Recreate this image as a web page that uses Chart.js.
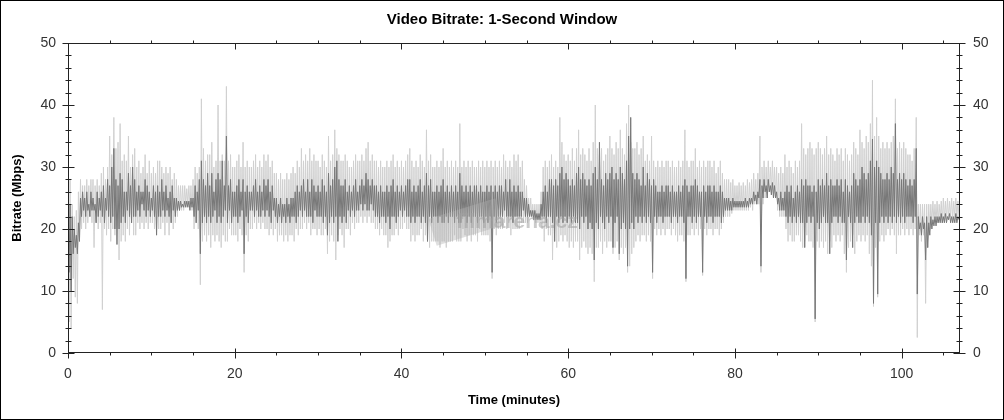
<!DOCTYPE html>
<html>
<head>
<meta charset="utf-8">
<script src="https://cdn.jsdelivr.net/npm/chart.js@4.4.1/dist/chart.umd.min.js"></script>
<style>
  html, body { margin: 0; padding: 0; background: #fff; }
  #wrap { width: 1004px; height: 420px; position: relative; }
</style>
</head>
<body>
<div id="wrap"><canvas id="bitrateChart"></canvas></div>
<script>
// 8 samples per minute
const STEP = 0.125;

// 1-second window bitrate (dark trace), Mbps, one row per minute
const darkRate = [
  27, 13, 24, 10, 22, 16, 20, 17,
  19, 16, 21, 18, 25, 22, 26, 23,
  25, 22, 26, 23, 24, 22, 26, 23,
  25, 23, 24, 21, 26, 22, 25, 23,
  26, 22, 27, 21, 25, 23, 28, 22,
  27, 21, 30, 22, 33, 20, 28, 17.5,
  27, 20, 29, 21, 28, 22, 26, 21,
  26, 23, 29, 22, 27, 21, 30, 22,
  28, 22, 26, 23, 27, 22, 26, 24,
  26, 23, 28, 22, 27, 23, 26, 22,
  25, 23, 27, 22, 26, 19, 27, 22, // 10
  26, 22, 28, 23, 26, 22, 27, 23,
  25, 22, 26, 21, 27, 23, 25, 22,
  25, 23, 24.5, 23, 24.5, 23.5, 24, 23.5,
  24.5, 23.5, 24.5, 23.5, 24.5, 23, 25, 23.5,
  25, 22, 27, 21, 26, 23, 28, 16,
  31, 21, 28, 22, 27, 21, 29, 22,
  27, 21, 29, 22, 26, 23, 28, 21,
  29, 22, 28, 21, 31, 22, 27, 23,
  35, 21, 27, 23, 28, 21, 26, 22,
  26, 22, 27, 21, 28, 22, 26, 23, // 20
  28, 16, 26, 22, 27, 21, 26, 23,
  26, 23, 27, 22, 28, 23, 26, 22,
  27, 22, 26, 23, 28, 22, 27, 23,
  28, 22, 26, 21, 27, 23, 25, 22,
  25, 21, 24, 22, 25, 21, 24, 22,
  24, 21, 25, 22, 24, 21, 25, 22,
  25, 22, 26, 21, 27, 22, 26, 23,
  27, 22, 28, 23, 26, 22, 28, 22,
  26, 22, 28, 21, 27, 23, 26, 22,
  27, 22, 26, 22, 28, 21, 27, 22, // 30
  26, 19, 29, 21, 27, 22, 28, 21,
  30, 22, 31, 18, 28, 22, 27, 21,
  27, 22, 28, 21, 26, 23, 27, 22,
  26, 23, 27, 22, 28, 23, 26, 23,
  27, 24, 28, 23, 27, 24, 29, 23,
  28, 23, 27, 24, 28, 23, 27, 22,
  27, 22, 26, 21, 27, 22, 26, 22,
  26, 21, 27, 22, 26, 20, 27, 22,
  28, 22, 26, 21, 27, 22, 26, 23,
  27, 22, 26, 23, 27, 22, 28, 22, // 40
  28, 21, 26, 22, 27, 21, 26, 22,
  27, 22, 28, 21, 26, 22, 27, 21,
  29, 18, 27, 22, 28, 21, 26, 22,
  26, 22, 27, 21, 26, 22, 27, 21,
  28, 21, 26, 22, 27, 21, 26, 22,
  27, 22, 26, 21, 27, 22, 26, 21,
  29, 21, 27, 22, 26, 22, 27, 21,
  26, 22, 27, 21, 26, 22, 27, 22,
  27, 21, 26, 22, 27, 22, 26, 21,
  26, 22, 27, 21, 26, 22, 27, 13, // 50
  26, 22, 27, 21, 26, 22, 27, 22,
  27, 22, 26, 23, 28, 22, 26, 22,
  28, 22, 26, 21, 27, 22, 26, 22,
  27, 22, 26, 22, 26, 23, 25, 22,
  25, 22, 24, 22, 23, 22, 23, 21.5,
  23, 21.5, 22.5, 21.5, 22.5, 21.5, 24, 22,
  26, 22, 27, 21, 26, 22, 28, 22,
  28, 21, 27, 18, 28, 22, 27, 21,
  29, 22, 30, 21, 28, 22, 29, 21,
  28, 22, 27, 21, 28, 22, 27, 21, // 60
  29, 21, 30, 20, 28, 22, 29, 21,
  28, 22, 27, 20, 28, 21, 27, 20,
  29, 15, 30, 21, 28, 20, 34, 22,
  28, 21, 27, 20, 29, 22, 28, 21,
  29, 22, 30, 17, 28, 21, 29, 22,
  28, 16, 30, 20, 29, 21, 28, 20,
  31, 14, 35, 20, 38, 21, 29, 20,
  28, 22, 29, 21, 28, 22, 27, 21,
  30, 22, 27, 21, 29, 22, 28, 21,
  27, 13, 28, 22, 27, 21, 26, 22, // 70
  26, 22, 27, 21, 26, 22, 27, 22,
  27, 22, 26, 21, 27, 22, 26, 22,
  26, 21, 27, 22, 26, 22, 27, 21,
  28, 12, 27, 22, 26, 22, 27, 21,
  27, 22, 28, 21, 27, 22, 26, 22,
  26, 13, 27, 22, 26, 21, 27, 22,
  27, 22, 26, 21, 27, 22, 26, 22,
  26, 22, 27, 21, 26, 22, 25, 23,
  25, 23, 25, 23, 24.5, 23, 25, 23.5,
  24.5, 23.5, 24.5, 23.5, 24.5, 23.5, 24.5, 23.5, // 80
  24.5, 23.5, 25, 23.5, 24.5, 23.5, 25, 24,
  25, 24, 26, 24.5, 25.5, 24, 26, 25,
  28, 14, 27, 25, 28, 26, 27, 25,
  28, 26, 27, 25.5, 27.5, 25, 27, 25,
  26, 24, 25, 23, 26, 23, 25, 23,
  26, 22, 27, 21, 26, 22, 27, 21,
  25, 22, 26, 21, 27, 22, 26, 21,
  28, 21, 27, 17, 28, 21, 27, 22,
  27, 21, 26, 22, 27, 5.5, 26, 21,
  28, 20, 27, 21, 28, 22, 27, 21, // 90
  29, 21, 27, 16, 28, 21, 27, 22,
  27, 22, 28, 21, 27, 22, 28, 21,
  26, 21, 28, 15, 27, 22, 26, 21,
  27, 17, 29, 21, 28, 22, 27, 21,
  28, 21, 30, 22, 29, 21, 28, 22,
  29, 21, 31, 19, 34.5, 8, 30, 21,
  31, 9.5, 30, 21, 29, 22, 28, 21,
  28, 22, 29, 21, 28, 22, 30, 21,
  29, 22, 37, 21, 28, 22, 29, 21,
  28, 22, 29, 21, 28, 22, 27, 22, // 100
  28, 22, 27, 21, 28, 22, 33, 9.5,
  22, 20, 21, 19, 22, 20, 21, 15,
  22, 17, 21, 19, 22, 20, 21.5, 20.5,
  22, 20.5, 22, 21, 22, 21, 22.5, 21,
  22, 21, 22.5, 21, 22, 21.5, 22.5, 21,
  22, 21, 22, 21, 22.5, 21, 22, 21.5
];

// wider light grey trace, Mbps, same sampling
const lightRate = [
  30, 5, 28, 4, 24, 12, 22, 9,
  23, 8, 26, 18, 28, 20, 27, 21,
  27, 20, 28, 21, 27, 22, 28, 21,
  28, 17, 27, 21, 28, 20, 27, 21,
  29, 7, 30, 20, 28, 19, 30, 20,
  35, 18, 32, 20, 38, 19, 33, 20,
  34, 15, 37, 18, 31, 19, 32, 18,
  31, 20, 35, 19, 30, 21, 32, 19,
  33, 19, 30, 21, 31, 20, 29, 21,
  30, 20, 32, 21, 29, 20, 31, 21,
  29, 21, 30, 20, 29, 21, 31, 20, // 10
  31, 20, 30, 21, 29, 19, 30, 21,
  29, 19, 30, 21, 28, 20, 29, 21,
  28, 22, 27, 23, 27, 23, 27, 23,
  27, 24, 26.5, 24, 27, 23.5, 27, 23,
  28, 20, 30, 21, 29, 20, 30, 11,
  41, 18, 33, 19, 31, 18, 32, 19,
  32, 17, 34, 19, 30, 18, 31, 19,
  40, 18, 31, 17, 32, 19, 31, 18,
  43, 18, 31, 20, 32, 19, 30, 19,
  30, 19, 31, 18, 32, 20, 30, 19, // 20
  34, 13, 30, 19, 31, 18, 30, 20,
  30, 20, 31, 21, 32, 20, 30, 21,
  31, 20, 30, 21, 32, 20, 31, 20,
  32, 19, 30, 20, 31, 19, 29, 20,
  29, 18, 28, 19, 29, 19, 28, 18,
  28, 19, 29, 18, 28, 19, 29, 19,
  30, 18, 29, 20, 31, 19, 30, 20,
  33, 20, 31, 21, 32, 20, 31, 21,
  33, 19, 31, 20, 32, 20, 31, 19,
  31, 20, 30, 19, 32, 19, 31, 20, // 30
  30, 16, 35, 18, 31, 19, 32, 18,
  36, 15, 33, 19, 32, 20, 31, 19,
  31, 17, 32, 20, 31, 20, 30, 19,
  30, 21, 31, 20, 32, 21, 31, 21,
  31, 22, 32, 21, 31, 22, 33, 21,
  34, 22, 31, 21, 32, 21, 31, 20,
  31, 20, 30, 19, 31, 20, 30, 19,
  30, 19, 31, 17, 30, 18, 31, 19,
  32, 19, 30, 20, 31, 19, 30, 20,
  31, 20, 30, 21, 31, 20, 32, 20, // 40
  33, 18, 31, 19, 30, 18, 31, 19,
  30, 19, 32, 20, 31, 18, 30, 19,
  36, 18, 31, 17, 32, 18, 30, 18,
  30, 18, 31, 18, 30, 17, 31, 18,
  33, 18, 30, 17, 31, 18, 30, 18,
  31, 18, 30, 19, 31, 18, 30, 18,
  37, 18, 30, 20, 31, 19, 30, 18,
  31, 19, 30, 18, 31, 19, 30, 19,
  30, 18, 31, 20, 30, 19, 31, 19,
  30, 19, 31, 19, 30, 18, 31, 12, // 50
  30, 20, 31, 19, 30, 20, 31, 20,
  30, 20, 32, 21, 31, 20, 30, 21,
  31, 19, 30, 20, 32, 20, 31, 20,
  32, 20, 30, 21, 31, 21, 28, 21,
  27, 21, 25, 22, 25, 22, 24, 21.5,
  24, 21, 24, 21, 24, 21, 26, 20,
  30, 18, 31, 20, 30, 19, 31, 19,
  32, 15, 30, 18, 31, 17, 30, 18,
  38, 19, 34, 18, 32, 19, 31, 18,
  32, 17, 31, 18, 33, 17, 31, 18, // 60
  33, 18, 36, 15, 32, 17, 33, 18,
  32, 17, 31, 16, 33, 17, 31, 16,
  34, 11.5, 40, 17, 33, 17, 32, 18,
  33, 16, 31, 18, 32, 17, 33, 18,
  35, 18, 33, 16, 32, 17, 34, 18,
  33, 15, 36, 17, 33, 16, 32, 17,
  37, 13, 40, 14, 34, 16, 33, 17,
  33, 18, 34, 19, 32, 18, 33, 19,
  35, 19, 31, 18, 32, 19, 31, 18,
  35, 12, 31, 20, 30, 19, 31, 20, // 70
  30, 19, 31, 20, 30, 19, 31, 20,
  31, 20, 30, 19, 31, 20, 30, 19,
  30, 18, 31, 19, 30, 19, 31, 18,
  36, 11.5, 31, 19, 30, 19, 31, 20,
  31, 19, 33, 20, 30, 19, 31, 20,
  30, 12.5, 31, 20, 30, 19, 31, 20,
  31, 20, 30, 19, 31, 20, 29, 20,
  30, 19, 31, 20, 29, 21, 28, 22,
  28, 22, 28, 22, 27.5, 22.5, 28, 23,
  27, 23, 27, 23, 27.5, 23, 27, 23, // 80
  27.5, 23, 27, 23, 28, 23, 27.5, 23.5,
  28, 23, 29, 24, 28, 24, 29, 24,
  35, 13, 30, 24, 31, 25, 30, 25,
  31, 26, 30, 26, 31, 25.5, 30, 25,
  30, 23, 29, 22, 30, 22, 29, 22,
  32, 20, 30, 18, 31, 19, 30, 18,
  29, 18, 31, 19, 30, 19, 31, 18,
  37, 17, 33, 18, 32, 19, 33, 18,
  34, 18, 33, 17, 32, 5, 33, 18,
  34, 17, 33, 18, 32, 17, 33, 18, // 90
  35, 16, 32, 18, 33, 17, 32, 19,
  31, 18, 33, 19, 32, 18, 33, 19,
  31, 16, 33, 13, 32, 17, 31, 18,
  32, 19, 34, 16, 33, 18, 32, 19,
  36, 18, 34, 19, 33, 18, 35, 19,
  34, 16, 37, 14, 44, 7.5, 35, 17,
  38, 9, 35, 18, 33, 19, 34, 18,
  33, 19, 34, 20, 33, 19, 34, 20,
  35, 19, 41, 16, 33, 19, 34, 19,
  33, 20, 34, 19, 33, 20, 32, 19, // 100
  32, 20, 31, 19, 33, 20, 38, 2.5,
  24, 19, 24, 18, 24, 19, 24, 8,
  24, 17, 24, 20, 24, 21, 24.5, 21,
  24, 21, 24.5, 21, 24, 21.5, 24.5, 21,
  25, 21.5, 24.5, 21.5, 25, 21.5, 24.5, 22,
  25, 21.5, 24.5, 22, 25, 22, 24.5, 22
];

const xMajorTicks = [0, 20, 40, 60, 80, 100];
const xMinorTicks = [5, 10, 15, 25, 30, 35, 45, 50, 55, 65, 70, 75, 85, 90, 95, 105];
const yMajorTicks = [0, 10, 20, 30, 40, 50];
const yMinorTicks = [2, 4, 6, 8, 12, 14, 16, 18, 22, 24, 26, 28, 32, 34, 36, 38, 42, 44, 46, 48];

const times = darkRate.map((_, i) => i * STEP);
const toPoints = arr => arr.map((v, i) => ({ x: times[i], y: v }));

const FONT = "'Liberation Sans', Arial, sans-serif";

// frame, axis box with crossing tick marks, watermark
const axisMarks = {
  id: 'axisMarks',
  afterDatasetsDraw(chart) {
    const { ctx } = chart;
    ctx.save();
    ctx.translate(466, 222);
    ctx.rotate(-0.3);
    ctx.fillStyle = 'rgba(175,175,175,0.4)';
    ctx.fillRect(-35, -14, 70, 28);
    ctx.restore();
    ctx.save();
    ctx.font = "bold 21px " + FONT;
    ctx.fillStyle = 'rgba(160,160,160,0.55)';
    ctx.textAlign = 'center';
    ctx.textBaseline = 'middle';
    ctx.fillText('filmarena.cz', 517, 222);
    ctx.restore();
  },
  afterDraw(chart) {
    const { ctx, chartArea: a, scales } = chart;
    const x = scales.x, y = scales.y;
    ctx.save();
    ctx.strokeStyle = '#000';
    ctx.lineWidth = 1;
    ctx.strokeRect(0.5, 0.5, chart.width - 1, chart.height - 1);
    ctx.strokeStyle = '#222';
    const L = Math.round(a.left) + 0.5, R = Math.round(a.right) - 0.5;
    const T = Math.round(a.top) + 0.5, B = Math.round(a.bottom) - 0.5;
    ctx.strokeRect(L, T, R - L, B - T);
    ctx.beginPath();
    xMajorTicks.forEach(v => {
      const px = Math.round(x.getPixelForValue(v)) + 0.5;
      ctx.moveTo(px, B - 4); ctx.lineTo(px, B + 6);
      ctx.moveTo(px, T); ctx.lineTo(px, T + 6);
    });
    xMinorTicks.forEach(v => {
      const px = Math.round(x.getPixelForValue(v)) + 0.5;
      ctx.moveTo(px, B); ctx.lineTo(px, B + 3);
      ctx.moveTo(px, T - 3); ctx.lineTo(px, T);
    });
    yMajorTicks.forEach(v => {
      const py = Math.round(y.getPixelForValue(v)) + 0.5;
      ctx.moveTo(L - 6, py); ctx.lineTo(L + 6, py);
      ctx.moveTo(R - 6, py); ctx.lineTo(R + 6, py);
    });
    yMinorTicks.forEach(v => {
      const py = Math.round(y.getPixelForValue(v)) + 0.5;
      ctx.moveTo(L - 3, py); ctx.lineTo(L + 3, py);
      ctx.moveTo(R - 3, py); ctx.lineTo(R + 3, py);
    });
    ctx.stroke();
    ctx.restore();
  }
};

const ctx = document.getElementById('bitrateChart').getContext('2d');
new Chart(ctx, {
  type: 'line',
  data: {
    datasets: [
      {
        label: 'Bitrate',
        data: toPoints(darkRate),
        borderColor: '#777777',
        borderWidth: 1,
        pointRadius: 0,
        tension: 0
      },
      {
        label: 'Peak',
        data: toPoints(lightRate),
        borderColor: '#d0d0d0',
        borderWidth: 1,
        pointRadius: 0,
        tension: 0
      }
    ]
  },
  options: {
    responsive: true,
    maintainAspectRatio: false,
    animation: false,
    events: [],
    layout: { padding: 0 },
    plugins: {
      legend: { display: false },
      tooltip: { enabled: false },
      title: {
        display: true,
        text: 'Video Bitrate: 1-Second Window',
        color: '#000',
        font: { family: FONT, size: 15, weight: 'bold' },
        padding: { top: 11, bottom: 14 }
      }
    },
    scales: {
      x: {
        type: 'linear',
        min: 0,
        max: 107,
        grid: { display: false, drawTicks: false },
        border: { display: false },
        ticks: {
          stepSize: 20,
          includeBounds: false,
          maxRotation: 0,
          padding: 13,
          color: '#333',
          font: { family: FONT, size: 14 }
        },
        title: {
          display: true,
          text: 'Time (minutes)',
          color: '#000',
          font: { family: FONT, size: 13, weight: 'bold' },
          padding: { top: 0, bottom: 12 }
        },
        afterFit(scale) { scale.height = 67; }
      },
      y: {
        position: 'left',
        min: 0,
        max: 50,
        grid: { display: false, drawTicks: false },
        border: { display: false },
        ticks: {
          stepSize: 10,
          padding: 12,
          color: '#333',
          font: { family: FONT, size: 14 }
        },
        title: {
          display: true,
          text: 'Bitrate (Mbps)',
          color: '#000',
          font: { family: FONT, size: 13, weight: 'bold' },
          padding: { top: 10, bottom: 0 }
        },
        afterFit(scale) { scale.width = 68; }
      },
      y2: {
        position: 'right',
        min: 0,
        max: 50,
        grid: { display: false, drawTicks: false },
        border: { display: false },
        ticks: {
          stepSize: 10,
          padding: 13,
          color: '#333',
          font: { family: FONT, size: 14 }
        },
        afterFit(scale) { scale.width = 44; }
      }
    }
  },
  plugins: [axisMarks]
});
</script>
</body>
</html>
